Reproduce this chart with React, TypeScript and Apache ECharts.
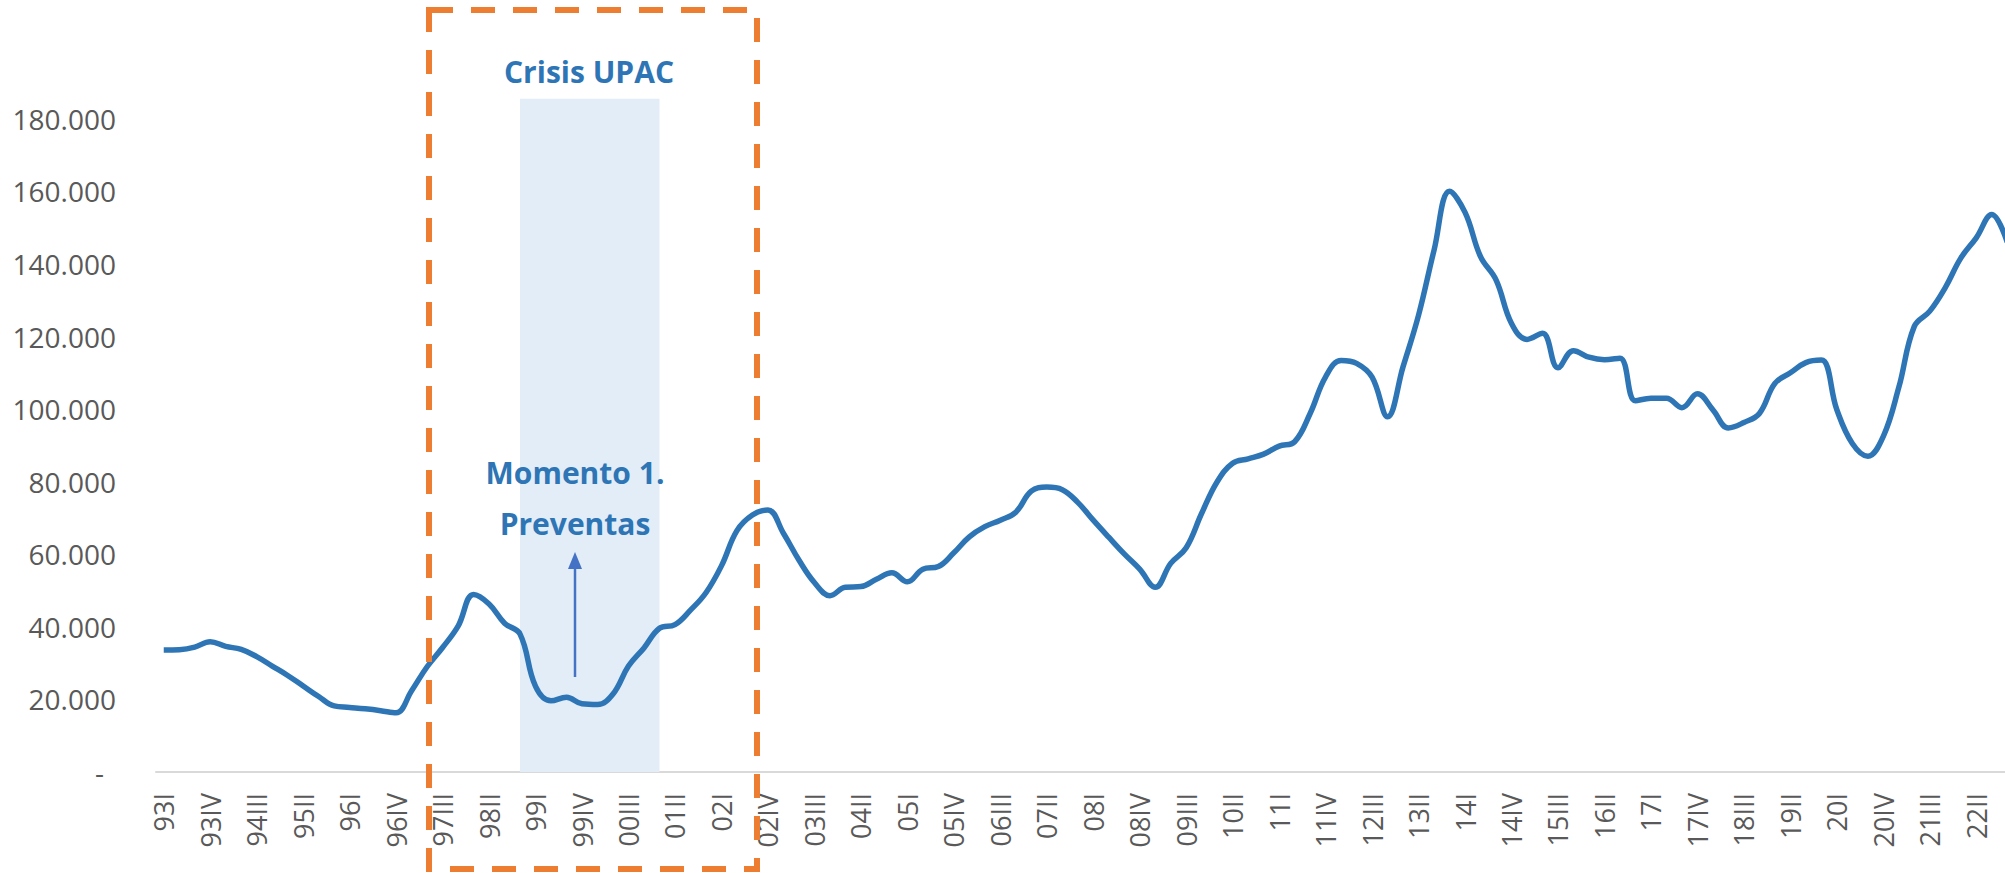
import React, { useEffect, useRef } from "react";
import * as echarts from "echarts";

const categories: string[] = [
  "93I", "93II", "93III", "93IV", "94I", "94II", "94III", "94IV",
  "95I", "95II", "95III", "95IV", "96I", "96II", "96III", "96IV",
  "97I", "97II", "97III", "97IV", "98I", "98II", "98III", "98IV",
  "99I", "99II", "99III", "99IV", "00I", "00II", "00III", "00IV",
  "01I", "01II", "01III", "01IV", "02I", "02II", "02III", "02IV",
  "03I", "03II", "03III", "03IV", "04I", "04II", "04III", "04IV",
  "05I", "05II", "05III", "05IV", "06I", "06II", "06III", "06IV",
  "07I", "07II", "07III", "07IV", "08I", "08II", "08III", "08IV",
  "09I", "09II", "09III", "09IV", "10I", "10II", "10III", "10IV",
  "11I", "11II", "11III", "11IV", "12I", "12II", "12III", "12IV",
  "13I", "13II", "13III", "13IV", "14I", "14II", "14III", "14IV",
  "15I", "15II", "15III", "15IV", "16I", "16II", "16III", "16IV",
  "17I", "17II", "17III", "17IV", "18I", "18II", "18III", "18IV",
  "19I", "19II", "19III", "19IV", "20I", "20II", "20III", "20IV",
  "21I", "21II", "21III", "21IV", "22I", "22II", "22III", "22IV",
];

const values: number[] = [
  33600, 33700, 34400, 35900, 34600, 33800, 31800, 29200,
  26600, 23700, 20800, 18200, 17800, 17400, 16900, 16300,
  22400, 29000, 34300, 40200, 48900, 46300, 41000, 38000,
  23600, 19600, 20600, 18800, 18600, 21500, 29200, 34200,
  39600, 40600, 44600, 49400, 56800, 66500, 70800, 72200,
  65800, 58400, 52200, 48600, 50900, 51100, 53100, 54900,
  52400, 55900, 56600, 60400, 64800, 67600, 69400, 71600,
  77400, 78500, 77800, 74300, 69400, 64700, 60100, 55900,
  50900, 57500, 61800, 71300, 80000, 85100, 86300, 87600,
  89800, 91000, 98800, 108900, 113400, 112600, 108800, 97900,
  111700, 125900, 143800, 160000, 154200, 142000, 135600, 123600,
  119200, 120900, 111400, 116100, 114300, 113600, 114000, 102300,
  103000, 103000, 100400, 104200, 99800, 94800, 96300, 98800,
  107100, 110000, 112800, 113500, 99800, 90500, 87000, 92500,
  106000, 122800, 127000, 133500, 141600, 147200, 153600, 146000,
];

const crisisRange: string[] = ["98IV", "01I"];
const crisisTop: number[] = [185500];
const annotationTexts: string[] = ["Crisis UPAC", "Momento 1.", "Preventas"];

const fmt = (v: number): string => {
  if (v === 0) return "{d|-}";
  return String(v).replace(/\B(?=(\d{3})+(?!\d))/g, ".");
};

export default function App() {
  const ref = useRef<HTMLDivElement>(null);

  useEffect(() => {
    document.body.style.margin = "0";
    if (!ref.current) return;
    const chart = echarts.init(ref.current, null, { renderer: "svg" });
    const blue = "#2E75B6";
    chart.setOption({
      animation: false,
      backgroundColor: "#ffffff",
      grid: {
        left: 156,
        width: 1859,
        top: 46.2,
        bottom: 101,
        containLabel: false,
        outerBoundsMode: "none",
      },
      xAxis: {
        type: "category",
        data: categories,
        boundaryGap: true,
        axisLine: { show: true, lineStyle: { color: "#D9D9D9", width: 2 } },
        axisTick: { show: false },
        splitLine: { show: false },
        axisLabel: {
          interval: 2,
          rotate: 90,
          margin: 21,
          fontSize: 27,
          color: "#595959",
          fontFamily: "Open Sans",
        },
      },
      yAxis: {
        type: "value",
        min: 0,
        max: 200000,
        interval: 20000,
        axisLine: { show: false },
        axisTick: { show: false },
        splitLine: { show: false },
        axisLabel: {
          showMaxLabel: false,
          margin: 40,
          fontSize: 28,
          color: "#595959",
          fontFamily: "Open Sans",
          formatter: fmt,
          rich: {
            d: { fontSize: 28, color: "#595959", fontFamily: "Open Sans", padding: [0, 12, 0, 0] },
          },
        },
      },
      series: [
        {
          type: "line",
          data: values,
          smooth: 0.4,
          symbol: "none",
          lineStyle: { color: blue, width: 5.5 },
          z: 3,
          markArea: {
            silent: true,
            itemStyle: { color: "#E2EDF7" },
            data: [
              [
                { xAxis: crisisRange[0], yAxis: 0 },
                { xAxis: crisisRange[1], yAxis: crisisTop[0] },
              ],
            ],
          },
        },
      ],
      graphic: [
        {
          type: "text",
          x: 589,
          y: 71,
          z: 50,
          style: {
            text: annotationTexts[0],
            fill: blue,
            fontSize: 30,
            fontWeight: "bold",
            fontFamily: "Open Sans",
            align: "center",
            verticalAlign: "middle",
          },
        },
        {
          type: "text",
          x: 575,
          y: 472,
          z: 50,
          style: {
            text: annotationTexts[1],
            fill: blue,
            fontSize: 30,
            fontWeight: "bold",
            fontFamily: "Open Sans",
            align: "center",
            verticalAlign: "middle",
          },
        },
        {
          type: "text",
          x: 575,
          y: 523,
          z: 50,
          style: {
            text: annotationTexts[2],
            fill: blue,
            fontSize: 30,
            fontWeight: "bold",
            fontFamily: "Open Sans",
            align: "center",
            verticalAlign: "middle",
          },
        },
        {
          type: "line",
          z: 50,
          shape: { x1: 575, y1: 677, x2: 575, y2: 566 },
          style: { stroke: "#4472C4", lineWidth: 2.5 },
        },
        {
          type: "polygon",
          z: 50,
          shape: { points: [[575, 552], [568, 569], [582, 569]] },
          style: { fill: "#4472C4" },
        },
        {
          type: "rect",
          z: 100,
          shape: { x: 429, y: 10, width: 328, height: 859 },
          style: { fill: "none", stroke: "#ED7D31", lineWidth: 6, lineDash: [24, 18] },
        },
      ],
    });
    return () => chart.dispose();
  }, []);

  return <div ref={ref} style={{ width: 2005, height: 873 }} />;
}
